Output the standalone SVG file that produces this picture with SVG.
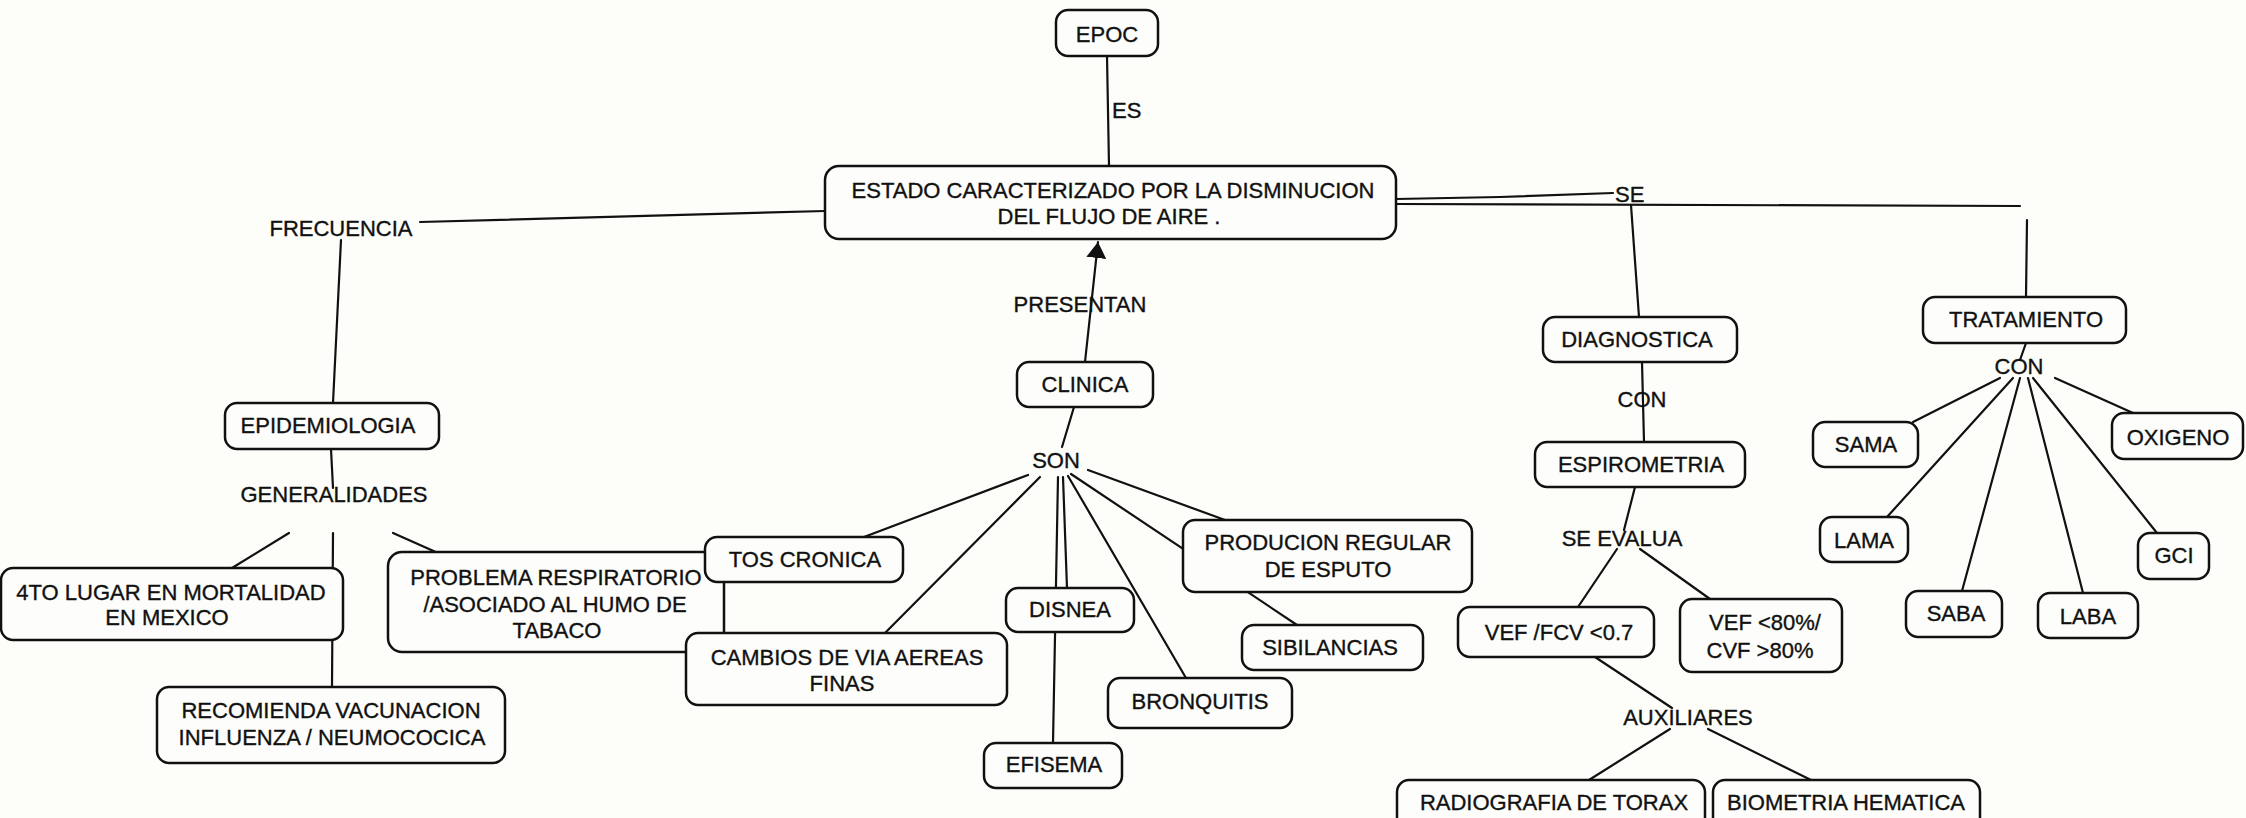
<svg xmlns="http://www.w3.org/2000/svg" width="2246" height="818" viewBox="0 0 2246 818">
<style>
  .bg { fill: #fdfdf9; }
  .box { fill: #fdfdfb; stroke: #111; stroke-width: 2.5; }
  .ln { fill: none; stroke: #111; stroke-width: 2.2; stroke-linecap: round; }
  text { font-family: "Liberation Sans", Arial, sans-serif; font-size: 22px; fill: #111; stroke: #111; stroke-width: 0.35; text-anchor: middle; }
  .lbl { text-anchor: start; }
</style>
<defs>
  <marker id="arrow" markerUnits="userSpaceOnUse" markerWidth="16" markerHeight="20" viewBox="0 0 16 20" refX="16" refY="10" orient="auto">
    <path d="M0,0 L16,10 L0,20 z" fill="#111"/>
  </marker>
</defs>
<rect class="bg" x="0" y="0" width="2246" height="818"/>

<g id="connectors">
  <line class="ln" x1="1107" y1="56" x2="1109" y2="166"/>
  <line class="ln" x1="420" y1="222" x2="825" y2="211"/>
  <line class="ln" x1="341" y1="240" x2="333" y2="403"/>
  <line class="ln" x1="331" y1="449" x2="333" y2="488"/>
  <line class="ln" x1="289" y1="533" x2="232" y2="568"/>
  <line class="ln" x1="333" y1="533" x2="332" y2="687"/>
  <line class="ln" x1="393" y1="533" x2="438" y2="553"/>
  <line class="ln" x1="1085" y1="362" x2="1098" y2="242" marker-end="url(#arrow)"/>
  <line class="ln" x1="1074" y1="407" x2="1062" y2="447"/>
  <line class="ln" x1="1028" y1="475" x2="864" y2="537"/>
  <line class="ln" x1="1040" y1="477" x2="885" y2="633"/>
  <line class="ln" x1="1058" y1="477" x2="1053" y2="743"/>
  <line class="ln" x1="1063" y1="477" x2="1067" y2="588"/>
  <line class="ln" x1="1068" y1="476" x2="1186" y2="678"/>
  <line class="ln" x1="1071" y1="474" x2="1297" y2="625"/>
  <line class="ln" x1="1088" y1="470" x2="1225" y2="520"/>
  <polyline class="ln" points="1396,199 1500,197 1613,193"/>
  <line class="ln" x1="1396" y1="204" x2="2020" y2="206"/>
  <line class="ln" x1="1631" y1="205" x2="1639" y2="317"/>
  <line class="ln" x1="2027" y1="220" x2="2026" y2="297"/>
  <line class="ln" x1="1642" y1="362" x2="1644" y2="442"/>
  <line class="ln" x1="1635" y1="487" x2="1624" y2="530"/>
  <line class="ln" x1="1617" y1="549" x2="1578" y2="607"/>
  <line class="ln" x1="1640" y1="549" x2="1710" y2="599"/>
  <line class="ln" x1="1595" y1="657" x2="1672" y2="708"/>
  <line class="ln" x1="1670" y1="729" x2="1589" y2="780"/>
  <line class="ln" x1="1708" y1="729" x2="1811" y2="780"/>
  <line class="ln" x1="2026" y1="343" x2="2020" y2="360"/>
  <line class="ln" x1="2000" y1="378" x2="1913" y2="422"/>
  <line class="ln" x1="2013" y1="378" x2="1887" y2="517"/>
  <line class="ln" x1="2020" y1="378" x2="1962" y2="591"/>
  <line class="ln" x1="2028" y1="378" x2="2083" y2="593"/>
  <line class="ln" x1="2033" y1="378" x2="2157" y2="533"/>
  <line class="ln" x1="2055" y1="378" x2="2133" y2="413"/>
</g>

<g id="label-es"><text class="lbl" x="1112" y="118">ES</text></g>
<g id="label-frecuencia"><text x="341" y="236">FRECUENCIA</text></g>
<g id="label-generalidades"><text x="334" y="502">GENERALIDADES</text></g>
<g id="label-presentan"><text x="1080" y="312">PRESENTAN</text></g>
<g id="label-son"><text x="1056" y="468">SON</text></g>
<g id="label-se"><text class="lbl" x="1615" y="202">SE</text></g>
<g id="label-con-diag"><text x="1642" y="407">CON</text></g>
<g id="label-se-evalua"><text x="1622" y="546">SE EVALUA</text></g>
<g id="label-auxiliares"><text x="1688" y="725">AUXILIARES</text></g>
<g id="label-con-trat"><text x="2019" y="374">CON</text></g>

<g id="node-epoc">
  <rect class="box" x="1056" y="10" width="102" height="46" rx="12"/>
  <text x="1107" y="42">EPOC</text>
</g>
<g id="node-estado">
  <rect class="box" x="825" y="166" width="571" height="73" rx="14"/>
  <text x="1113" y="198">ESTADO CARACTERIZADO POR LA DISMINUCION</text>
  <text x="1109" y="224">DEL FLUJO DE AIRE .</text>
</g>
<g id="node-epidemiologia">
  <rect class="box" x="225" y="403" width="214" height="46" rx="12"/>
  <text x="328" y="433">EPIDEMIOLOGIA</text>
</g>
<g id="node-4to-lugar">
  <rect class="box" x="1" y="568" width="342" height="72" rx="12"/>
  <text x="171" y="600">4TO LUGAR EN MORTALIDAD</text>
  <text x="167" y="625">EN MEXICO</text>
</g>
<g id="node-recomienda">
  <rect class="box" x="157" y="687" width="348" height="76" rx="12"/>
  <text x="331" y="718">RECOMIENDA VACUNACION</text>
  <text x="332" y="745">INFLUENZA / NEUMOCOCICA</text>
</g>
<g id="node-problema">
  <rect class="box" x="388" y="552" width="336" height="100" rx="14"/>
  <text x="556" y="585">PROBLEMA RESPIRATORIO</text>
  <text x="555" y="612">/ASOCIADO AL HUMO DE</text>
  <text x="557" y="638">TABACO</text>
</g>
<g id="node-tos-cronica">
  <rect class="box" x="705" y="537" width="198" height="45" rx="12"/>
  <text x="805" y="567">TOS CRONICA</text>
</g>
<g id="node-cambios">
  <rect class="box" x="686" y="633" width="321" height="72" rx="12"/>
  <text x="847" y="665">CAMBIOS DE VIA AEREAS</text>
  <text x="842" y="691">FINAS</text>
</g>
<g id="node-clinica">
  <rect class="box" x="1017" y="362" width="136" height="45" rx="12"/>
  <text x="1085" y="392">CLINICA</text>
</g>
<g id="node-disnea">
  <rect class="box" x="1006" y="588" width="128" height="44" rx="12"/>
  <text x="1070" y="617">DISNEA</text>
</g>
<g id="node-efisema">
  <rect class="box" x="984" y="743" width="138" height="45" rx="12"/>
  <text x="1054" y="772">EFISEMA</text>
</g>
<g id="node-bronquitis">
  <rect class="box" x="1108" y="678" width="184" height="50" rx="12"/>
  <text x="1200" y="709">BRONQUITIS</text>
</g>
<g id="node-producion">
  <rect class="box" x="1183" y="520" width="289" height="72" rx="12"/>
  <text x="1328" y="550">PRODUCION REGULAR</text>
  <text x="1328" y="577">DE ESPUTO</text>
</g>
<g id="node-sibilancias">
  <rect class="box" x="1242" y="625" width="181" height="45" rx="12"/>
  <text x="1330" y="655">SIBILANCIAS</text>
</g>
<g id="node-diagnostica">
  <rect class="box" x="1543" y="317" width="194" height="45" rx="12"/>
  <text x="1637" y="347">DIAGNOSTICA</text>
</g>
<g id="node-espirometria">
  <rect class="box" x="1535" y="442" width="210" height="45" rx="12"/>
  <text x="1641" y="472">ESPIROMETRIA</text>
</g>
<g id="node-vef-fcv">
  <rect class="box" x="1458" y="607" width="196" height="50" rx="12"/>
  <text x="1559" y="640">VEF /FCV &lt;0.7</text>
</g>
<g id="node-vef-80">
  <rect class="box" x="1680" y="599" width="162" height="73" rx="12"/>
  <text x="1765" y="630">VEF &lt;80%/</text>
  <text x="1760" y="658">CVF &gt;80%</text>
</g>
<g id="node-radiografia">
  <rect class="box" x="1397" y="780" width="308" height="55" rx="12"/>
  <text x="1554" y="810">RADIOGRAFIA DE TORAX</text>
</g>
<g id="node-biometria">
  <rect class="box" x="1713" y="780" width="267" height="55" rx="12"/>
  <text x="1846" y="810">BIOMETRIA HEMATICA</text>
</g>
<g id="node-tratamiento">
  <rect class="box" x="1923" y="297" width="203" height="46" rx="12"/>
  <text x="2026" y="327">TRATAMIENTO</text>
</g>
<g id="node-sama">
  <rect class="box" x="1813" y="422" width="105" height="45" rx="12"/>
  <text x="1866" y="452">SAMA</text>
</g>
<g id="node-lama">
  <rect class="box" x="1820" y="517" width="88" height="45" rx="12"/>
  <text x="1864" y="548">LAMA</text>
</g>
<g id="node-saba">
  <rect class="box" x="1906" y="591" width="96" height="46" rx="12"/>
  <text x="1956" y="621">SABA</text>
</g>
<g id="node-laba">
  <rect class="box" x="2038" y="593" width="100" height="45" rx="12"/>
  <text x="2088" y="624">LABA</text>
</g>
<g id="node-gci">
  <rect class="box" x="2138" y="533" width="71" height="46" rx="12"/>
  <text x="2174" y="563">GCI</text>
</g>
<g id="node-oxigeno">
  <rect class="box" x="2112" y="413" width="131" height="46" rx="12"/>
  <text x="2178" y="445">OXIGENO</text>
</g>
</svg>
